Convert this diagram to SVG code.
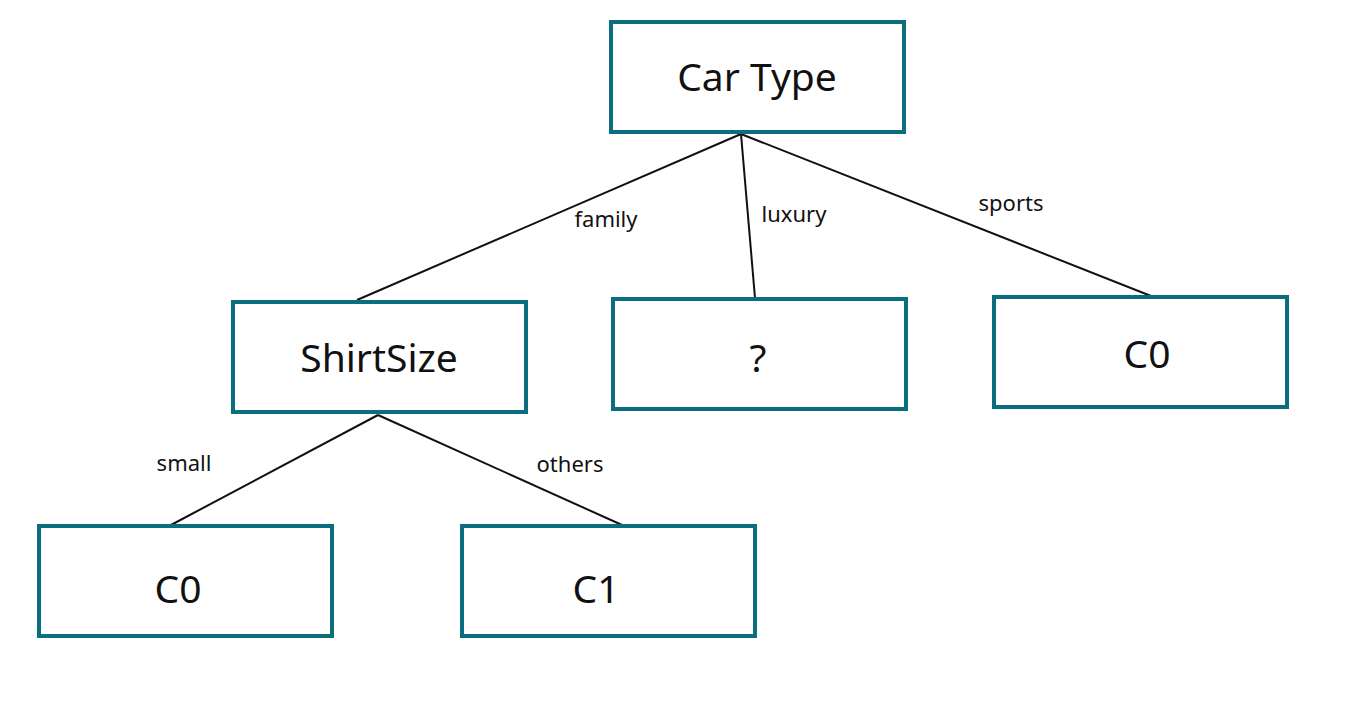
<svg xmlns="http://www.w3.org/2000/svg" width="1352" height="705" viewBox="0 0 1352 705">
<style>
.node rect{fill:#fff;stroke:#0b6e7f;stroke-width:4}
.node text{font-family:"Noto Sans","DejaVu Sans",sans-serif;font-size:39px;fill:#111;text-anchor:middle;dominant-baseline:central}
.edges line{stroke:#111;stroke-width:2}
.lbl{font-family:"Noto Sans","DejaVu Sans",sans-serif;font-size:22px;fill:#111;text-anchor:middle;dominant-baseline:central}
</style>
<rect width="1352" height="705" fill="#fff"/>
<g id="edges" class="edges">
<line x1="741" y1="134" x2="357" y2="300"/>
<line x1="741" y1="134" x2="755" y2="298"/>
<line x1="741" y1="134" x2="1151" y2="296"/>
<line x1="378" y1="415" x2="171" y2="525"/>
<line x1="378" y1="415" x2="622" y2="525"/>
<text class="lbl" x="606" y="218">family</text>
<text class="lbl" x="794" y="213">luxury</text>
<text class="lbl" x="1011" y="202">sports</text>
<text class="lbl" x="184" y="462">small</text>
<text class="lbl" x="570" y="463">others</text>
</g>
<g id="cartype" class="node"><rect x="611" y="22" width="293" height="110"/><text x="757" y="75">Car Type</text></g>
<g id="shirtsize" class="node"><rect x="233" y="302" width="293" height="110"/><text x="379" y="356">ShirtSize</text></g>
<g id="luxury" class="node"><rect x="613" y="299" width="293" height="110"/><text x="758" y="356">?</text></g>
<g id="sports" class="node"><rect x="994" y="297" width="293" height="110"/><text x="1147" y="352">C0</text></g>
<g id="small" class="node"><rect x="39" y="526" width="293" height="110"/><text x="178" y="587">C0</text></g>
<g id="others" class="node"><rect x="462" y="526" width="293" height="110"/><text x="596" y="587">C1</text></g>
</svg>
